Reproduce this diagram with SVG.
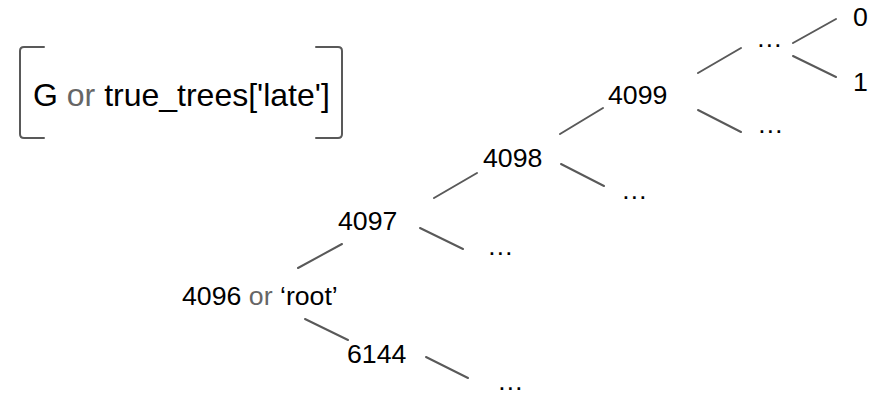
<svg xmlns="http://www.w3.org/2000/svg" width="875" height="395" viewBox="0 0 875 395">
<style>
.t{font-family:"Liberation Sans",Arial,sans-serif;font-size:26.7px;fill:#000}
.h{font-family:"Liberation Sans",Arial,sans-serif;font-size:32px;fill:#000}
.g{fill:#666}
.e{stroke:#595959;stroke-width:2;fill:none;stroke-linecap:round}
</style>
<rect width="875" height="395" fill="#fff"/>
<g id="title">
<path class="e" d="M44,47 H24 Q20,47 20,51 V134 Q20,138 24,138 H44"/>
<path class="e" d="M316,47 H338 Q342,47 342,51 V134 Q342,138 338,138 H316"/>
<text class="h" x="33" y="106">G <tspan class="g">or</tspan> true_trees['late']</text>
</g>
<g id="connectors">
<line class="e" x1="698" y1="73" x2="741" y2="48"/>
<line class="e" x1="793" y1="43" x2="836" y2="19"/>
<line class="e" x1="793" y1="56" x2="836" y2="77"/>
<line class="e" x1="698" y1="110" x2="741" y2="132"/>
<line class="e" x1="560" y1="134" x2="603" y2="108"/>
<line class="e" x1="561" y1="164" x2="604" y2="186"/>
<line class="e" x1="434" y1="198" x2="477" y2="173"/>
<line class="e" x1="420" y1="228" x2="463" y2="249"/>
<line class="e" x1="298" y1="268" x2="342" y2="244"/>
<line class="e" x1="305" y1="319" x2="348" y2="340"/>
<line class="e" x1="426" y1="357" x2="468" y2="378"/>
</g>
<g id="n0"><text class="t" x="853" y="26">0</text></g>
<g id="n1"><text class="t" x="853" y="91">1</text></g>
<g id="e1"><text class="t" x="756" y="47">…</text></g>
<g id="n4099"><text class="t" x="608" y="104">4099</text></g>
<g id="e2"><text class="t" x="757" y="133">…</text></g>
<g id="n4098"><text class="t" x="483" y="167">4098</text></g>
<g id="e3"><text class="t" x="621" y="199">…</text></g>
<g id="n4097"><text class="t" x="338" y="230">4097</text></g>
<g id="e4"><text class="t" x="487" y="255">…</text></g>
<g id="n4096"><text class="t" x="182" y="305">4096 <tspan class="g">or</tspan> ‘root’</text></g>
<g id="n6144"><text class="t" x="347" y="363">6144</text></g>
<g id="e5"><text class="t" x="497" y="390">…</text></g>
</svg>
